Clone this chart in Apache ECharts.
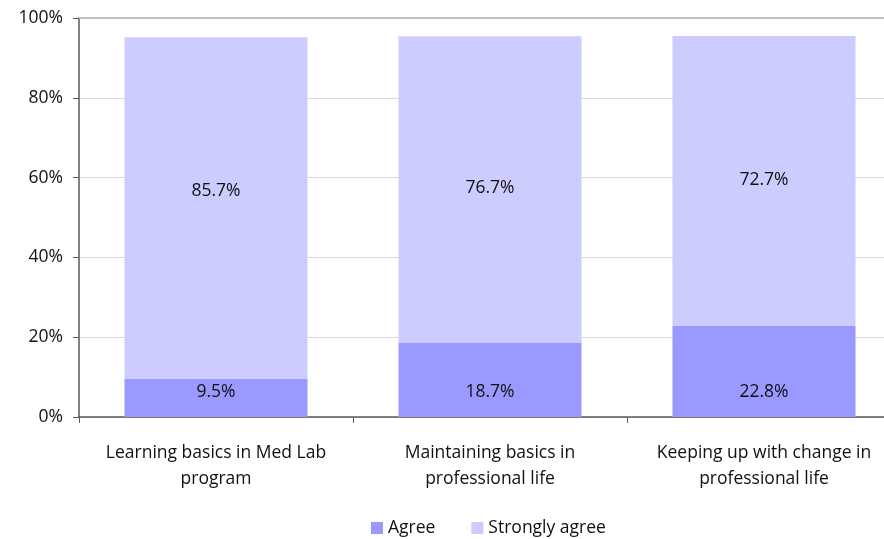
<!DOCTYPE html>
<html style="height: 100%">
<head>
<meta charset="utf-8">
</head>
<body style="height: 100%; margin: 0; background: #fff">
<div id="container" style="width: 884px; height: 539px"></div>
<script src="https://cdn.jsdelivr.net/npm/echarts@6/dist/echarts.min.js"></script>
<script>
var categories = ['Learning basics in Med Lab\nprogram', 'Maintaining basics in\nprofessional life', 'Keeping up with change in\nprofessional life'];
var agree = [9.5, 18.7, 22.8];
var stronglyAgree = [85.7, 76.7, 72.7];
var yTicks = [0, 20, 40, 60, 80, 100];

var font = '"Open Sans", "Noto Sans", sans-serif';
var fs = 17.5;
var chart = echarts.init(document.getElementById('container'));

var option = {
    animation: false,
    textStyle: {fontFamily: font, color: '#111'},
    grid: {left: 79, width: 822, top: 18, height: 399, outerBoundsMode: 'none', containLabel: false},
    legend: {
        top: 514,
        left: 366,
        itemWidth: 12,
        itemHeight: 12,
        itemGap: 36,
        icon: 'rect',
        textStyle: {fontFamily: font, fontSize: fs, color: '#111'},
        data: ['Agree', 'Strongly agree']
    },
    xAxis: {
        type: 'category',
        data: categories,
        axisLine: {lineStyle: {color: '#595959', width: 1.5}},
        axisTick: {show: true, length: 6, lineStyle: {color: '#595959'}},
        axisLabel: {fontFamily: font, fontSize: fs, color: '#111', margin: 23, lineHeight: 26, interval: 0}
    },
    yAxis: {
        type: 'value',
        min: yTicks[0],
        max: yTicks[yTicks.length - 1],
        interval: 20,
        axisLine: {show: true, lineStyle: {color: '#595959', width: 1.5}},
        axisTick: {show: true, length: 6, lineStyle: {color: '#595959'}},
        axisLabel: {fontFamily: font, fontSize: fs, color: '#111', margin: 16, formatter: '{value}%'},
        splitLine: {lineStyle: {color: '#d9d9d9', width: 1}}
    },
    series: [
        {
            name: 'Agree',
            type: 'bar',
            stack: 'total',
            barWidth: '66.8%',
            itemStyle: {color: '#9999ff'},
            label: {
                show: true,
                position: 'insideBottom',
                distance: 16,
                fontFamily: font,
                fontSize: fs,
                color: '#111',
                formatter: function (p) { return p.value.toFixed(1) + '%'; }
            },
            data: agree
        },
        {
            name: 'Strongly agree',
            type: 'bar',
            stack: 'total',
            itemStyle: {color: '#ccccff'},
            label: {
                show: true,
                position: 'inside',
                offset: [0, -1],
                fontFamily: font,
                fontSize: fs,
                color: '#111',
                formatter: function (p) { return p.value.toFixed(1) + '%'; }
            },
            data: stronglyAgree.map(function (v, i) {
                return i === 0 ? {value: v, label: {offset: [0, -17]}} : v;
            }),
            markLine: {
                silent: true,
                symbol: 'none',
                label: {show: false},
                lineStyle: {color: '#bfbfbf', width: 2, type: 'solid'},
                data: [{yAxis: 100}]
            }
        }
    ]
};

chart.setOption(option);
</script>
</body>
</html>
